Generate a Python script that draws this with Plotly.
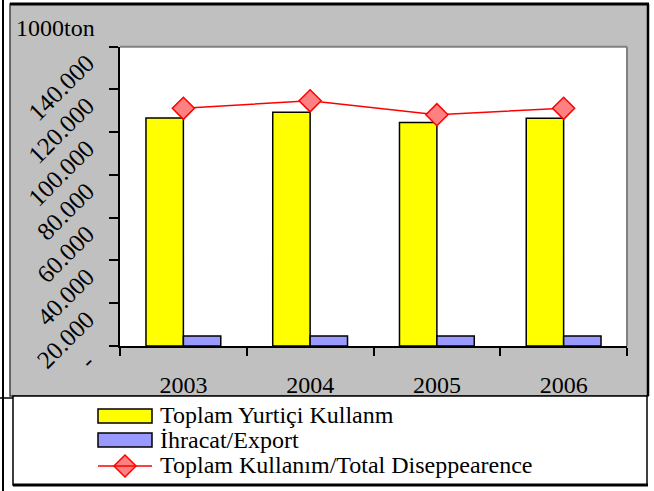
import plotly.graph_objects as go

# values in 1000 ton
years = ["2003", "2004", "2005", "2006"]
domestic_use = [106600, 109300, 104600, 106500]
exports = [4700, 4700, 4700, 4700]
total_use = [111200, 114700, 108200, 111200]

series_names = ["Toplam Yurtiçi Kullanm", "İhracat/Export", "Toplam Kullanım/Total Diseppearence"]
y_ticks = [0, 20000, 40000, 60000, 80000, 100000, 120000, 140000]
y_tick_text = ["-", "20.000", "40.000", "60.000", "80.000", "100.000", "120.000", "140.000"]

W, H = 654, 491
FONT = "Liberation Serif"
YELLOW = "#FFFF00"
BLUE = "#9999FF"
RED = "#FF0000"
PINK = "#FF8080"
GRAY = "#C0C0C0"


def px(x):
    return x / W


def py(y):
    return 1 - y / H


fig = go.Figure()
fig.add_trace(go.Bar(x=years, y=domestic_use, name=series_names[0],
                     marker=dict(color=YELLOW, line=dict(color="black", width=1.5))))
fig.add_trace(go.Bar(x=years, y=exports, name=series_names[1],
                     marker=dict(color=BLUE, line=dict(color="black", width=1.5))))
fig.add_trace(go.Scatter(x=years, y=total_use, name=series_names[2], mode="lines+markers",
                         line=dict(color=RED, width=1.5),
                         marker=dict(symbol="diamond", size=17, color=PINK,
                                     line=dict(color=RED, width=1.5))))

shapes = [
    # grey chart area with black frame
    dict(type="rect", xref="paper", yref="paper", x0=px(10), x1=px(648), y0=py(396), y1=py(4),
         fillcolor=GRAY, line=dict(color="#404040", width=1.5), layer="below"),
    dict(type="line", xref="paper", yref="paper", x0=px(10), x1=px(649), y0=py(4), y1=py(4),
         line=dict(color="black", width=3)),
    dict(type="line", xref="paper", yref="paper", x0=px(648), x1=px(648), y0=py(396), y1=py(4),
         line=dict(color="black", width=2.5)),
    # white plot area
    dict(type="rect", xref="x domain", yref="y domain", x0=0, x1=1, y0=0, y1=1,
         fillcolor="white", line=dict(width=0), layer="below"),
    dict(type="line", xref="x domain", yref="y domain", x0=0, x1=1, y0=1, y1=1,
         line=dict(color="#808080", width=2)),
    dict(type="line", xref="x domain", yref="y domain", x0=1, x1=1, y0=0, y1=1,
         line=dict(color="#808080", width=2)),
    # legend box
    dict(type="rect", xref="paper", yref="paper", x0=px(13), x1=px(647), y0=py(485), y1=py(396),
         fillcolor="white", line=dict(color="black", width=1.5), layer="below"),
    dict(type="line", xref="paper", yref="paper", x0=px(13), x1=px(648), y0=py(485), y1=py(485),
         line=dict(color="black", width=3)),
    # far left frame line
    dict(type="line", xref="paper", yref="paper", x0=px(3), x1=px(3), y0=0, y1=1,
         line=dict(color="black", width=2)),
    dict(type="line", xref="paper", yref="paper", x0=0, x1=px(13), y0=py(398), y1=py(398),
         line=dict(color="black", width=1.5)),
    # legend swatches
    dict(type="rect", xref="paper", yref="paper", x0=px(98), x1=px(152), y0=py(423), y1=py(409),
         fillcolor=YELLOW, line=dict(color="black", width=1.5)),
    dict(type="rect", xref="paper", yref="paper", x0=px(98), x1=px(152), y0=py(447), y1=py(433),
         fillcolor=BLUE, line=dict(color="black", width=1.5)),
    dict(type="line", xref="paper", yref="paper", x0=px(98), x1=px(152), y0=py(466), y1=py(466),
         line=dict(color=RED, width=1.5)),
]

annotations = [
    dict(text="1000ton", x=px(14), y=py(28), xref="paper", yref="paper",
         xanchor="left", yanchor="middle", showarrow=False, font=dict(size=24, color="black")),
]
for name, yy in zip(series_names, [415, 440, 465]):
    annotations.append(dict(text=name, x=px(158), y=py(yy), xref="paper", yref="paper",
                            xanchor="left", yanchor="middle", showarrow=False,
                            font=dict(size=24, color="black")))

# diamond of the line legend entry, on a full-page helper axis
fig.add_trace(go.Scatter(x=[px(125)], y=[py(466)], xaxis="x2", yaxis="y2", mode="markers",
                         marker=dict(symbol="diamond", size=17, color=PINK,
                                     line=dict(color=RED, width=1.5)),
                         showlegend=False, hoverinfo="skip"))

fig.update_layout(
    width=W, height=H,
    margin=dict(l=0, r=0, t=0, b=0, pad=0),
    paper_bgcolor="white",
    plot_bgcolor="rgba(0,0,0,0)",
    font=dict(family=FONT, color="black"),
    showlegend=False,
    barmode="group",
    bargap=0.41,
    bargroupgap=0,
    shapes=shapes,
    annotations=annotations,
    xaxis=dict(domain=[px(120), px(627)], type="category", range=[-0.5, 3.5], automargin=False,
               showline=True, linecolor="black", linewidth=2,
               ticks="outside", tickson="boundaries", ticklen=8, tickwidth=2, tickcolor="black",
               tickfont=dict(size=24, family=FONT), ticklabelstandoff=16,
               showgrid=False, zeroline=False),
    yaxis=dict(domain=[py(346), py(46.7)], range=[0, 140000], automargin=False,
               tickvals=y_ticks, ticktext=y_tick_text, tickangle=-45,
               showline=True, linecolor="black", linewidth=2,
               ticks="outside", ticklen=9, tickwidth=2, tickcolor="black",
               tickfont=dict(size=25, family=FONT), ticklabelstandoff=17, ticklabelshift=13,
               showgrid=False, zeroline=False),
    xaxis2=dict(domain=[0, 1], range=[0, 1], visible=False, anchor="y2", fixedrange=True),
    yaxis2=dict(domain=[0, 1], range=[0, 1], visible=False, anchor="x2", fixedrange=True),
)

fig.write_html("out.html", config={"displayModeBar": False},
               post_script="document.body.style.margin='0';")
